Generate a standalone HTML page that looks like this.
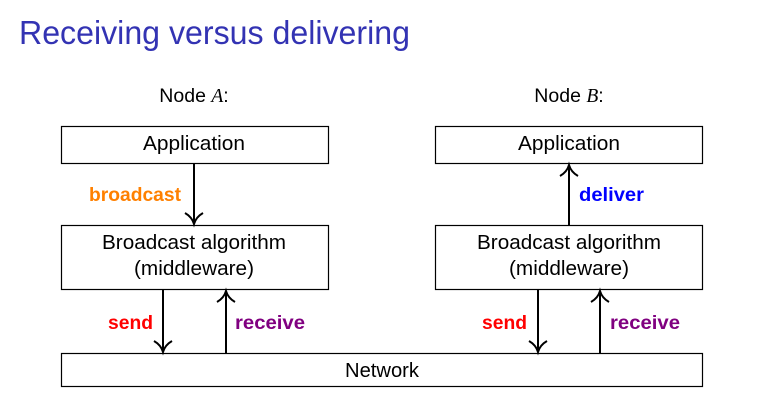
<!DOCTYPE html>
<html><head><meta charset="utf-8"><style>
html,body{margin:0;padding:0;background:#fff;}
svg{display:block;}
text{font-family:"Liberation Sans",sans-serif;}
</style></head><body>
<svg width="766" height="414" viewBox="0 0 766 414" xmlns="http://www.w3.org/2000/svg">
<text x="19" y="44" font-size="33" fill="#3333b3" textLength="391" lengthAdjust="spacingAndGlyphs">Receiving versus delivering</text>
<text x="194" y="102" font-size="19.5" text-anchor="middle" fill="#000">Node <tspan font-family="Liberation Serif" font-style="italic">A</tspan>:</text>
<text x="569" y="102" font-size="19.5" text-anchor="middle" fill="#000">Node <tspan font-family="Liberation Serif" font-style="italic">B</tspan>:</text>
<g fill="none" stroke="#000" stroke-width="1.2">
<rect x="61.5" y="126.5" width="267" height="37"/>
<rect x="61.5" y="225.5" width="267" height="64"/>
<rect x="435.5" y="126.5" width="267" height="37"/>
<rect x="435.5" y="225.5" width="267" height="64"/>
<rect x="61.5" y="353.5" width="641" height="33"/>
</g>
<g font-size="20" text-anchor="middle" fill="#000">
<text x="194" y="150" textLength="102" lengthAdjust="spacingAndGlyphs">Application</text>
<text x="569" y="150" textLength="102" lengthAdjust="spacingAndGlyphs">Application</text>
<text x="194" y="249" textLength="184" lengthAdjust="spacingAndGlyphs">Broadcast algorithm</text>
<text x="194" y="275" textLength="120" lengthAdjust="spacingAndGlyphs">(middleware)</text>
<text x="569" y="249" textLength="184" lengthAdjust="spacingAndGlyphs">Broadcast algorithm</text>
<text x="569" y="275" textLength="120" lengthAdjust="spacingAndGlyphs">(middleware)</text>
<text x="382" y="377" textLength="74" lengthAdjust="spacingAndGlyphs">Network</text>
</g>
<g stroke="#000" stroke-width="2" fill="none">
<path d="M194 164V224M185 213Q192 217 194 224Q196 217 203 213"/>
<path d="M569 225V165M560 176Q567 172 569 165Q571 172 578 176"/>
<path d="M163 290V352M154 341Q161 345 163 352Q165 345 172 341"/>
<path d="M226 353V291M217 302Q224 298 226 291Q228 298 235 302"/>
<path d="M538 290V352M529 341Q536 345 538 352Q540 345 547 341"/>
<path d="M600 353V291M591 302Q598 298 600 291Q602 298 609 302"/>
</g>
<g font-size="19" font-weight="bold">
<text x="181" y="201" text-anchor="end" fill="#ff8000" textLength="92" lengthAdjust="spacingAndGlyphs">broadcast</text>
<text x="579" y="201" fill="#0000ff" textLength="65" lengthAdjust="spacingAndGlyphs">deliver</text>
<text x="153" y="329" text-anchor="end" fill="#ff0000" textLength="45" lengthAdjust="spacingAndGlyphs">send</text>
<text x="235" y="329" fill="#800080" textLength="70" lengthAdjust="spacingAndGlyphs">receive</text>
<text x="527" y="329" text-anchor="end" fill="#ff0000" textLength="45" lengthAdjust="spacingAndGlyphs">send</text>
<text x="610" y="329" fill="#800080" textLength="70" lengthAdjust="spacingAndGlyphs">receive</text>
</g>
</svg>
</body></html>
